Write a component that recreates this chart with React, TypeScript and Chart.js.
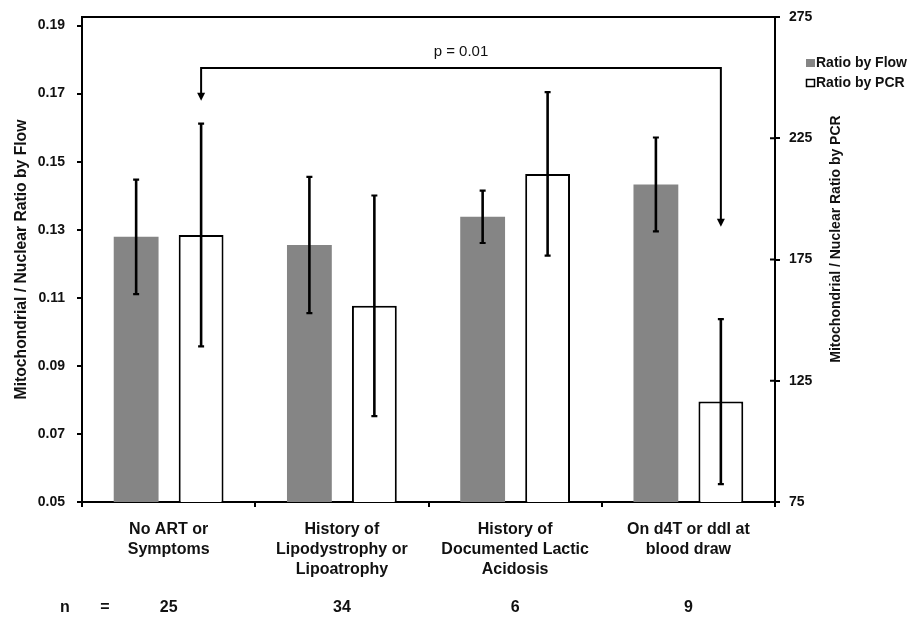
import React, { useEffect, useRef } from 'react';
import { Chart, registerables } from 'chart.js';

Chart.register(...registerables);

const categories: string[][] = [
  ['No ART or', 'Symptoms'],
  ['History of', 'Lipodystrophy or', 'Lipoatrophy'],
  ['History of', 'Documented Lactic', 'Acidosis'],
  ['On d4T or ddI at', 'blood draw'],
];
const sampleSizes = [25, 34, 6, 9];
const flowRatio = [0.1279, 0.1255, 0.1338, 0.1433];
const flowError = [0.0168, 0.02, 0.0077, 0.0138];
const pcrRatio = [185.1, 155.9, 210.3, 116.4];
const pcrError = [45.9, 45.5, 33.7, 34.0];
const flowTicks = [0.05, 0.07, 0.09, 0.11, 0.13, 0.15, 0.17, 0.19];
const pcrTicks = [75, 125, 175, 225, 275];
const seriesLabels = ['Ratio by Flow', 'Ratio by PCR'];
const pValueLabel = 'p = 0.01';
// comparison bracket, in PCR units
const bracketLevel = 254;
const leftArrowTip = 240.5;
const rightArrowTip = 188.5;

const FONT = "'Liberation Sans', Arial, sans-serif";
const GRAY = '#858585';

export default function App() {
  const ref = useRef<HTMLCanvasElement | null>(null);

  useEffect(() => {
    document.body.style.margin = '0';
    const canvas = ref.current;
    if (!canvas) return;

    const overlay = {
      id: 'overlay',
      afterDatasetsDraw(chart: any) {
        const { ctx, chartArea, scales } = chart;
        const y = scales.y;
        const y1 = scales.y1;
        ctx.save();
        ctx.strokeStyle = '#000';
        ctx.fillStyle = '#000';
        // top frame
        ctx.lineWidth = 2;
        ctx.beginPath();
        ctx.moveTo(chartArea.left - 1, chartArea.top);
        ctx.lineTo(chartArea.right + 1, chartArea.top);
        ctx.stroke();
        // inward ticks on right axis
        y1.ticks.forEach((_t: any, i: number) => {
          const py = y1.getPixelForTick(i);
          ctx.beginPath();
          ctx.moveTo(chartArea.right - 5, py);
          ctx.lineTo(chartArea.right, py);
          ctx.stroke();
        });
        // error bars
        const drawErr = (meta: any, vals: number[], errs: number[], scale: any) => {
          meta.data.forEach((bar: any, i: number) => {
            const cx = bar.x;
            const hi = scale.getPixelForValue(vals[i] + errs[i]);
            const lo = scale.getPixelForValue(vals[i] - errs[i]);
            ctx.lineWidth = 2.6;
            ctx.beginPath();
            ctx.moveTo(cx, hi);
            ctx.lineTo(cx, lo);
            ctx.stroke();
            ctx.lineWidth = 2.2;
            ctx.beginPath();
            ctx.moveTo(cx - 3, hi);
            ctx.lineTo(cx + 3, hi);
            ctx.moveTo(cx - 3, lo);
            ctx.lineTo(cx + 3, lo);
            ctx.stroke();
          });
        };
        drawErr(chart.getDatasetMeta(0), flowRatio, flowError, y);
        drawErr(chart.getDatasetMeta(1), pcrRatio, pcrError, y1);

        // comparison bracket
        const pcrMeta = chart.getDatasetMeta(1);
        const xL = pcrMeta.data[0].x;
        const xR = pcrMeta.data[3].x;
        const yB = y1.getPixelForValue(bracketLevel);
        const tL = y1.getPixelForValue(leftArrowTip);
        const tR = y1.getPixelForValue(rightArrowTip);
        ctx.lineWidth = 2;
        ctx.beginPath();
        ctx.moveTo(xL, tL - 6);
        ctx.lineTo(xL, yB);
        ctx.lineTo(xR, yB);
        ctx.lineTo(xR, tR - 6);
        ctx.stroke();
        const arrow = (ax: number, ay: number) => {
          ctx.beginPath();
          ctx.moveTo(ax - 4, ay - 8);
          ctx.lineTo(ax + 4, ay - 8);
          ctx.lineTo(ax, ay);
          ctx.closePath();
          ctx.fill();
        };
        arrow(xL, tL);
        arrow(xR, tR);
        ctx.font = `15px ${FONT}`;
        ctx.textAlign = 'center';
        ctx.textBaseline = 'middle';
        ctx.fillStyle = '#111';
        ctx.fillText(pValueLabel, (xL + xR) / 2, yB - 16);
        ctx.restore();
      },
      afterDraw(chart: any) {
        const { ctx, scales } = chart;
        const x = scales.x;
        ctx.save();
        ctx.fillStyle = '#111';
        // right axis title
        ctx.save();
        ctx.translate(836, 239);
        ctx.rotate(-Math.PI / 2);
        ctx.font = `bold 14px ${FONT}`;
        ctx.textAlign = 'center';
        ctx.textBaseline = 'middle';
        ctx.fillText('Mitochondrial / Nuclear Ratio by PCR', 0, 0);
        ctx.restore();
        // legend
        ctx.font = `bold 14px ${FONT}`;
        ctx.textAlign = 'left';
        ctx.textBaseline = 'middle';
        ctx.fillStyle = GRAY;
        ctx.fillRect(806, 59, 9, 8);
        ctx.strokeStyle = '#000';
        ctx.lineWidth = 1.5;
        ctx.fillStyle = '#fff';
        ctx.fillRect(806.5, 79.5, 8, 7);
        ctx.strokeRect(806.5, 79.5, 8, 7);
        ctx.fillStyle = '#111';
        ctx.fillText(seriesLabels[0], 816, 63);
        ctx.fillText(seriesLabels[1], 816, 83);
        // n row
        ctx.font = `bold 16px ${FONT}`;
        ctx.textAlign = 'center';
        ctx.fillText('n', 65, 608);
        ctx.fillText('=', 105, 608);
        sampleSizes.forEach((n, i) => {
          ctx.fillText(String(n), x.getPixelForValue(i), 608);
        });
        ctx.restore();
      },
    };

    const chart = new Chart(canvas, {
      type: 'bar',
      data: {
        labels: categories,
        datasets: [
          {
            label: seriesLabels[0],
            data: flowRatio,
            yAxisID: 'y',
            backgroundColor: GRAY,
            borderWidth: 0,
            categoryPercentage: 0.75,
            barPercentage: 0.69,
          },
          {
            label: seriesLabels[1],
            data: pcrRatio,
            yAxisID: 'y1',
            backgroundColor: '#ffffff',
            borderColor: '#000000',
            borderWidth: 2,
            categoryPercentage: 0.75,
            barPercentage: 0.69,
          },
        ],
      },
      options: {
        animation: false,
        responsive: false,
        devicePixelRatio: 1,
        layout: { padding: { top: 17, left: 0, right: 0, bottom: 0 } },
        plugins: { legend: { display: false }, tooltip: { enabled: false } },
        scales: {
          x: {
            afterFit: (s: any) => { s.height = 115; },
            grid: { drawOnChartArea: false, drawTicks: true, tickLength: 5, color: '#000', lineWidth: 2 },
            border: { display: true, color: '#000', width: 2 },
            ticks: {
              color: '#111',
              font: { family: FONT, size: 16, weight: 'bold', lineHeight: 1.25 },
              padding: 13,
              maxRotation: 0,
              autoSkip: false,
            },
          },
          y: {
            position: 'left',
            min: 0.05,
            max: 0.1925,
            afterFit: (s: any) => { s.width = 82; s.paddingTop = 0; s.paddingBottom = 0; },
            afterBuildTicks: (s: any) => { s.ticks = flowTicks.map((v) => ({ value: v })); },
            grid: { drawOnChartArea: false, drawTicks: true, tickLength: 5, color: '#000', lineWidth: 2 },
            border: { display: true, color: '#000', width: 2 },
            ticks: {
              color: '#111',
              font: { family: FONT, size: 14, weight: 'bold' },
              padding: 12,
              callback: (v: any) => Number(v).toFixed(2),
            },
            title: {
              display: true,
              text: 'Mitochondrial / Nuclear Ratio by Flow',
              color: '#111',
              font: { family: FONT, size: 15.7, weight: 'bold', lineHeight: 1.2 },
              padding: { top: 12, bottom: 0 },
            },
          },
          y1: {
            position: 'right',
            min: 75,
            max: 275,
            afterFit: (s: any) => { s.width = 136; s.paddingTop = 0; s.paddingBottom = 0; },
            afterBuildTicks: (s: any) => { s.ticks = pcrTicks.map((v) => ({ value: v })); },
            grid: { drawOnChartArea: false, drawTicks: true, tickLength: 5, color: '#000', lineWidth: 2 },
            border: { display: true, color: '#000', width: 2 },
            ticks: {
              color: '#111',
              font: { family: FONT, size: 14, weight: 'bold' },
              padding: 9,
            },
          },
        },
      },
      plugins: [overlay],
    } as any);

    return () => chart.destroy();
  }, []);

  return (
    <div style={{ width: 911, height: 617, background: '#fff' }}>
      <canvas ref={ref} width={911} height={617} style={{ display: 'block' }} />
    </div>
  );
}
